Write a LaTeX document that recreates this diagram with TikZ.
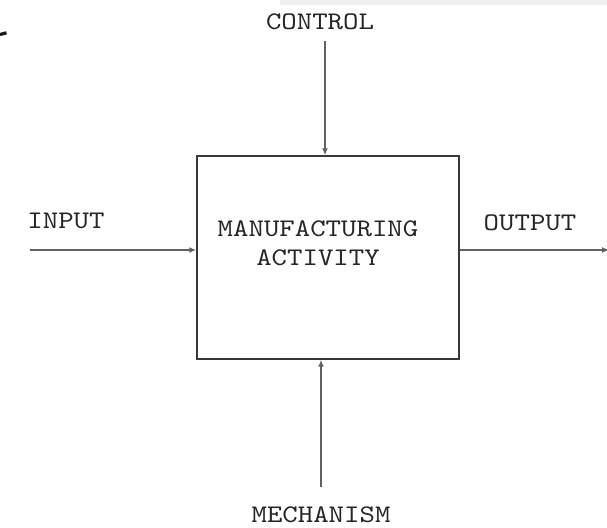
\documentclass[tikz,border=0pt]{standalone}
\usepackage{fontspec}
\newfontfamily\boxfont{lmmono10-regular}[Extension=.otf, FakeStretch=1.16]
\usetikzlibrary{arrows.meta}

\begin{document}
\begin{tikzpicture}[x=0.75pt,y=-0.75pt,
  label/.style={font=\boxfont\fontsize{19}{21}\selectfont, text=black!85, inner sep=0pt},
  flow/.style={draw=black!62, line width=1.1pt, -{Latex[length=5.2pt,width=4.5pt]}},
  activitybox/.style={draw=black!78, line width=1.2pt, minimum width=196.5pt, minimum height=152.2pt, inner sep=0pt}]

\useasboundingbox (0,0) rectangle (607,528);
\fill [black!6] (280,0) rectangle (607,5);
\draw [line width=2.4pt, black!90] (0,34.5) -- (6.5,32.8);

\node [activitybox] (activity) at (328,257.5) {};
\node [label, align=center] (actlabel) at (318,243) {MANUFACTURING\\[1pt]ACTIVITY};

\node [label] (control) at (320,22) {CONTROL};
\node [label] (input) at (66,221) {INPUT};
\node [label] (output) at (530,223) {OUTPUT};
\node [label] (mechanism) at (321,515) {MECHANISM};

\coordinate (ctrlstart) at (325,41);
\coordinate (instart) at (30,250);
\coordinate (outend) at (609,250);
\coordinate (mechstart) at (321,487);

\draw [flow] (ctrlstart) -- (ctrlstart |- activity.north);
\draw [flow] (instart) -- (instart -| activity.west);
\draw [flow] (outend -| activity.east) -- (outend);
\draw [flow] (mechstart) -- (mechstart |- activity.south);

\end{tikzpicture}
\end{document}
